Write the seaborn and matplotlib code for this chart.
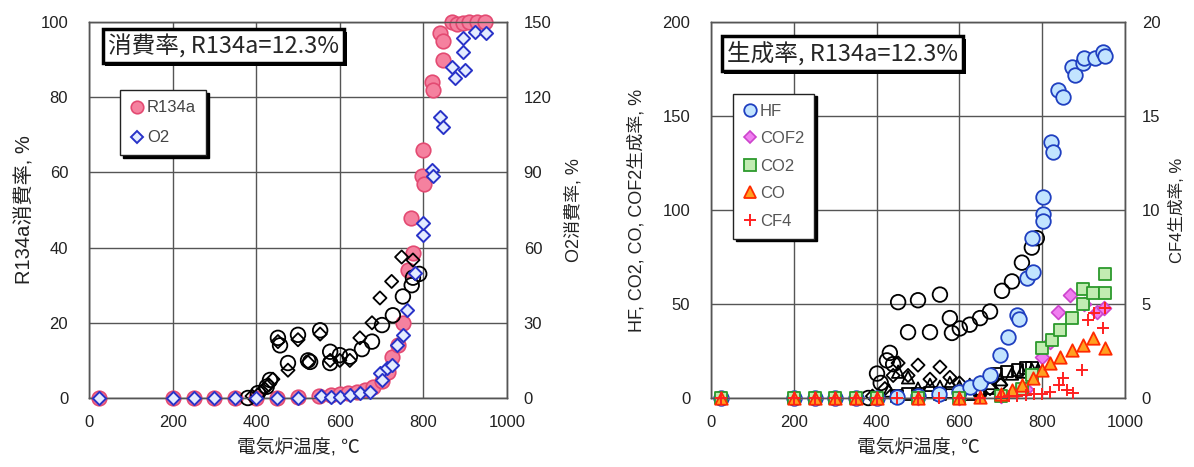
import numpy as np
import pandas as pd
import seaborn as sns
import matplotlib.pyplot as plt
from matplotlib.lines import Line2D
import matplotlib.patheffects as pe

# ---- left chart: consumption rate ----
r134_t = [25, 200, 250, 300, 350, 400, 450, 500, 550, 580, 600, 620, 640, 660, 680, 700, 715, 725,
          740, 750, 763, 775, 770, 797, 799, 801, 820, 823, 840, 847, 847, 868, 880, 895, 910, 928, 947]
r134_v = [0, 0, 0, 0, 0, 0, 0, 0.3, 0.5, 0.8, 1, 1.2, 1.6, 2, 3, 4.5, 7, 11,
          14, 20, 34, 38.5, 48, 59, 66, 57, 84, 82, 97, 95, 90, 100, 99.5, 99.7, 100, 100, 100]

o2_t = [25, 200, 250, 300, 350, 400, 450, 500, 555, 580, 600, 624, 648, 672, 697, 700, 712, 724,
        737, 752, 760, 780, 799, 799, 820, 823, 840, 847, 868, 876, 895, 895, 900, 923, 950]
o2_v = [0, 0, 0, 0, 0, 0, 0, 0, 0.8, 0.5, 0.5, 1.2, 2, 2.4, 10, 7, 12, 13,
        21, 25, 35, 50, 65, 70, 91, 88.6, 112, 108, 132, 127.6, 138, 143.6, 131, 146, 145.6]

# comparison run (black open markers)
old_c_t = [380, 404, 425, 433, 452, 457, 476, 500, 524, 529, 553, 577, 577, 600, 624, 653, 677, 701,
           727, 751, 772, 775, 790]
old_c_v = [0, 1.3, 3, 4.8, 16, 14, 9.3, 16.8, 10, 9.6, 18, 12.3, 9.3, 11.4, 11, 13, 15, 19.4,
           22, 27, 30, 32, 33]
old_d_t = [390, 410, 420, 430, 440, 452, 476, 500, 524, 553, 577, 600, 624, 648, 677, 696, 724, 748, 775]
old_d_v = [0.5, 1.5, 2.5, 3.5, 5, 15, 7.4, 15.5, 9.5, 17, 10, 10, 10, 16, 20, 26.6, 31, 37.5, 36.7]

# ---- right chart: production rate ----
hf_t = [25, 200, 250, 300, 350, 400, 450, 500, 550, 600, 625, 650, 674, 698, 717, 739, 745, 763, 778,
        775, 802, 802, 802, 821, 826, 838, 850, 872, 879, 899, 901, 928, 947, 952]
hf_v = [0, 0, 0, 0, 0, 0, 0.5, 1, 2, 3, 6, 8, 12, 23, 32.5, 44, 42, 64, 67,
        85, 107, 98, 94, 136, 131, 164, 160, 176, 172, 178, 181, 181, 184, 182]

cof2_t = [25, 200, 250, 300, 350, 400, 500, 600, 700, 760, 800, 820, 838, 867, 900, 932, 950]
cof2_v = [0, 0, 0, 0, 0, 0, 0, 0, 1, 5, 22, 30, 46, 55, 50, 46, 48]

co2_t = [25, 200, 250, 300, 350, 400, 500, 600, 700, 750, 775, 800, 824, 843, 872, 899, 899, 923, 952, 952]
co2_v = [0, 0, 0, 0, 0, 0, 0, 0, 1, 5, 12, 26.6, 31, 36, 42.5, 50, 58, 56, 56, 66]

co_t = [25, 200, 250, 300, 350, 400, 500, 600, 650, 700, 727, 751, 778, 800, 819, 843, 872, 899, 923, 952]
co_v = [0, 0, 0, 0, 0, 0, 0, 0, 0.5, 2, 4, 7, 10.6, 15, 18.6, 22, 25.5, 28, 32, 26.6]

cf4_t = [25, 200, 250, 300, 350, 400, 450, 500, 550, 600, 650, 700, 720, 740, 760, 780, 800, 820,
         840, 850, 860, 874, 896, 911, 925, 947, 952]
cf4_v = [0, 0, 0, 0, 0, 0, 0, 0, 0, 0, 0, 0.05, 0.1, 0.1, 0.15, 0.2, 0.2, 0.3,
         0.7, 1.06, 0.4, 0.27, 1.5, 4.15, 4.5, 3.7, 4.8]

# comparison run (black open markers)
old_hf_t = [380, 401, 410, 425, 432, 440, 452, 476, 500, 529, 553, 577, 582, 601, 625, 650, 674, 703,
            727, 751, 775, 787]
old_hf_v = [0, 13, 8, 20, 24, 18, 51, 35, 52, 35, 55, 42.5, 34.6, 37, 39, 42.5, 46, 57,
            62, 72, 80, 85]
old_dm_t = [390, 420, 440, 452, 476, 500, 529, 553, 577, 600, 625, 650, 674, 700]
old_dm_v = [1, 5, 12, 18.6, 12, 17.5, 10, 16.5, 11, 8, 6, 8, 5, 7]
old_tr_t = [400, 430, 452, 476, 500, 529, 553, 577, 600, 625, 650, 674, 700, 727, 751, 775, 790]
old_tr_v = [0, 4, 14, 11, 5, 7, 6, 8, 6, 7, 5, 8, 10, 13, 14, 15, 15]
old_sq_t = [400, 450, 476, 500, 529, 553, 577, 600, 625, 650, 674, 690, 715, 740, 760, 775]
old_sq_v = [0, 1, 2, 2, 3, 2, 3, 3, 2, 4, 5, 13, 14, 15, 16, 16]

sns.set_style("white")
plt.rcParams['font.family'] = ['Liberation Sans', 'Noto Sans CJK JP', 'DejaVu Sans']

GRID = '#555555'


def pts(ax, t, v, marker, s, fc, ec, lw=1.3):
    d = pd.DataFrame({'t': t, 'v': v})
    sns.scatterplot(data=d, x='t', y='v', ax=ax, marker=marker, s=s, color=ec,
                    facecolors=fc, edgecolor=ec, linewidth=lw, legend=False, zorder=3,
                    clip_on=False)


def style_axes(ax, tw, ymax, ystep, tmax, tstep):
    ax.set_xlim(0, 1000)
    ax.set_ylim(0, ymax)
    ax.set_xticks(range(0, 1001, 200))
    ax.set_yticks(np.arange(0, ymax + 1, ystep))
    tw.set_ylim(0, tmax)
    tw.set_yticks(np.arange(0, tmax + 1, tstep))
    ax.grid(True, color=GRID, lw=1)
    ax.set_axisbelow(True)
    for a in (ax, tw):
        for sp in a.spines.values():
            sp.set_color(GRID)
            sp.set_linewidth(1)
    ax.tick_params(axis='x', length=0, pad=12, labelsize=12, labelcolor='#222222')
    ax.tick_params(axis='y', length=0, pad=15, labelsize=12, labelcolor='#222222')
    tw.tick_params(axis='y', length=0, pad=12, labelsize=12, labelcolor='#222222')
    ax.set_xlabel('電気炉温度, ℃', fontsize=13.5, labelpad=6, color='#222222')
    ax.set_ylabel('')
    tw.set_ylabel('')


def title_box(ax, x, y, txt):
    t = ax.text(x, y, txt, transform=ax.transAxes, ha='left', va='top', fontsize=17,
                family=['Noto Sans CJK JP', 'DejaVu Sans'], zorder=10,
                bbox=dict(boxstyle='square,pad=0.22', fc='white', ec='black', lw=2.5))
    t.get_bbox_patch().set_path_effects([
        pe.SimplePatchShadow(offset=(2, -2), shadow_rgbFace='black', alpha=1), pe.Normal()])


fig = plt.figure(figsize=(11.94, 4.67), dpi=100)
ax1 = fig.add_axes([89 / 1194, 69 / 467, 418 / 1194, 376 / 467])
tw1 = ax1.twinx()
ax2 = fig.add_axes([711 / 1194, 69 / 467, 414 / 1194, 376 / 467])
tw2 = ax2.twinx()

# left chart
pts(ax1, r134_t, r134_v, 'o', 110, '#f5819f', '#e34a72', 1.2)
pts(ax1, old_c_t, old_c_v, 'o', 110, 'none', 'black', 1.3)
pts(ax1, old_d_t, old_d_v, 'D', 45, 'none', 'black', 1.3)
pts(tw1, o2_t, o2_v, 'D', 45, '#e4ecff', '#2832c8', 1.4)
style_axes(ax1, tw1, 100, 20, 150, 30)
ax1.set_ylabel('R134a消費率, %', fontsize=14.5, labelpad=4, color='#222222')
tw1.set_ylabel('O2消費率, %', fontsize=13, labelpad=10, color='#222222')
title_box(ax1, 0.045, 0.968, '消費率, R134a=12.3%')

h1 = [Line2D([], [], ls='', marker='o', ms=9, mfc='#f5819f', mec='#e34a72', mew=1.2),
      Line2D([], [], ls='', marker='D', ms=6, mfc='#e4ecff', mec='#2832c8', mew=1.4)]
tw1.legend(h1, ['R134a', 'O2'], loc='upper left', bbox_to_anchor=(0.055, 0.84), fontsize=12,
           frameon=True, fancybox=False, shadow={'color': 'black', 'alpha': 1}, edgecolor='#222222',
           framealpha=1, handlelength=0.8, handletextpad=0.2, labelspacing=0.9, borderpad=0.6,
           labelcolor='#444444')

# right chart
pts(ax2, old_hf_t, old_hf_v, 'o', 110, 'none', 'black', 1.3)
pts(ax2, old_dm_t, old_dm_v, 'D', 45, 'none', 'black', 1.3)
pts(ax2, old_tr_t, old_tr_v, '^', 80, 'none', 'black', 1.3)
pts(ax2, old_sq_t, old_sq_v, 's', 70, 'none', 'black', 1.3)
pts(ax2, hf_t, hf_v, 'o', 110, '#c2e4ff', '#1f3fc0', 1.3)
pts(ax2, cof2_t, cof2_v, 'D', 50, '#f07ef0', '#cc44cc', 1.2)
pts(ax2, co2_t, co2_v, 's', 80, '#c2ecb2', '#2c9a2c', 1.3)
pts(ax2, co_t, co_v, '^', 80, '#ffa020', '#ff2a00', 1.3)
pts(tw2, cf4_t, cf4_v, '+', 70, '#ff2020', '#ff2020', 1.4)
style_axes(ax2, tw2, 200, 50, 20, 5)
ax2.set_ylabel('HF, CO2, CO, COF2生成率, %', fontsize=13, labelpad=12, color='#222222')
tw2.set_ylabel('CF4生成率, %', fontsize=12, labelpad=6, color='#222222')
title_box(ax2, 0.038, 0.949, '生成率, R134a=12.3%')

h2 = [Line2D([], [], ls='', marker='o', ms=9, mfc='#c2e4ff', mec='#1f3fc0', mew=1.3),
      Line2D([], [], ls='', marker='D', ms=6, mfc='#f07ef0', mec='#cc44cc', mew=1.2),
      Line2D([], [], ls='', marker='s', ms=8, mfc='#c2ecb2', mec='#2c9a2c', mew=1.3),
      Line2D([], [], ls='', marker='^', ms=9, mfc='#ffa020', mec='#ff2a00', mew=1.3),
      Line2D([], [], ls='', marker='+', ms=9, mec='#ff2020', mew=1.4)]
tw2.legend(h2, ['HF', 'COF2', 'CO2', 'CO', 'CF4'], loc='upper left', bbox_to_anchor=(0.034, 0.832),
           fontsize=12, frameon=True, fancybox=False, shadow={'color': 'black', 'alpha': 1},
           edgecolor='#222222', framealpha=1, handlelength=0.8, handletextpad=0.2,
           labelspacing=0.75, borderpad=0.6, labelcolor='#555555')

fig.savefig('out.png', dpi=100)
